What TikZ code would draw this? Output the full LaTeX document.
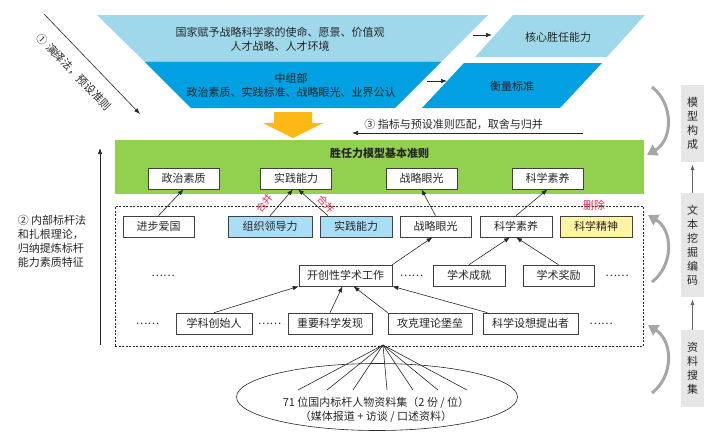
\documentclass[tikz,border=0pt]{standalone}
\usepackage{fontspec}
\setmainfont{Noto Sans CJK SC}
\usepackage{xcolor}
\usepackage{tikz}
\usetikzlibrary{arrows.meta, shapes.geometric, positioning}
\definecolor{skyblue}{HTML}{A0D8EB}
\definecolor{deepblue}{HTML}{00A0E2}
\definecolor{boxblue}{HTML}{A9DEF6}
\definecolor{boxyellow}{HTML}{FFF4A3}
\definecolor{rulegreen}{HTML}{92D050}
\definecolor{flowamber}{HTML}{FDB813}
\definecolor{stagegray}{HTML}{E6E6E6}
\definecolor{curvegray}{HTML}{A6A6A6}
\definecolor{tagred}{HTML}{F0284A}

\begin{document}
\begin{tikzpicture}[x=1pt, y=-1pt,
    every node/.style = {font=\fontsize{11}{14}\selectfont, text=black!85},
    crit/.style    = {rectangle, draw=black!75, line width=0.6pt, fill=white,
                      minimum width=71pt, minimum height=21pt, inner sep=1pt},
    merged/.style  = {crit, fill=boxblue},
    dropped/.style = {crit, fill=boxyellow},
    dots/.style    = {inner sep=0pt},
    stagebox/.style = {rectangle, fill=stagegray, minimum width=23pt,
                       align=center, inner sep=0pt},
    arrow/.style   = {-{Latex[length=6pt,width=4.5pt]}, line width=0.6pt, black!85},
    grayarrow/.style = {-{Latex[length=6pt,width=4.5pt]}, line width=1.2pt, black!60},
    curl/.style    = {-{Triangle[length=10pt,width=12pt]}, line width=3pt, curvegray},
    redtag/.style  = {font=\fontsize{10}{12}\selectfont, text=tagred, inner sep=0pt},
    fan/.style     = {line width=0.6pt, black!85}
  ]
  \useasboundingbox (0,0) rectangle (715,437);

  % Top funnel (two bands)
  \fill[skyblue]  (97,15) -- (488,15) -- (441.5,61.5) -- (144.5,61.5) -- cycle;
  \fill[deepblue] (144.5,61.5) -- (441.5,61.5) -- (395,108) -- (191,108) -- cycle;
  \node[align=center] at (280,39) (mission)
    {国家赋予战略科学家的使命、愿景、价值观\\人才战略、人才环境};
  \node[align=center] at (291,85) (zzb)
    {中组部\\政治素质、实践标准、战略眼光、业界公认};

  % Right parallelograms
  \fill[skyblue]  (513,15) -- (645,15) -- (607,57) -- (475,57) -- cycle;
  \fill[deepblue] (464,63) -- (602,63) -- (560,108) -- (422,108) -- cycle;
  \node at (558,37) (core)  {核心胜任能力};
  \node at (512,86) (gauge) {衡量标准};

  \coordinate (m1) at (473,35);  \coordinate (m2) at (492,35);
  \coordinate (z1) at (427,81);  \coordinate (z2) at (447,81);
  \draw[arrow] (m1) -- (m2);
  \draw[arrow] (z1) -- (z2);

  % Step 1 (deduction)
  \coordinate (d1) at (44,14);
  \coordinate (d2) at (140,114);
  \draw[arrow] (d1) -- (d2);
  \node[rotate=-46, inner sep=0pt] at (74,72) (deduce) {① 演绎法，预设准则};

  % Big amber arrow
  \fill[flowamber] (274,112) -- (312,112) -- (312,123) -- (323,123) -- (293,138)
                   -- (263,123) -- (274,123) -- cycle;

  % Step 3 (matching)
  \coordinate (p1) at (583,133);
  \coordinate (p2) at (352,133);
  \draw[arrow] (p1) -- node[above, pos=0.56] (match) {③ 指标与预设准则匹配，取舍与归并} (p2);

  % Basic criteria (green band)
  \node[rectangle, fill=rulegreen, minimum width=529pt, minimum height=54pt]
    at (379.5,167) (base) {};
  \node[font=\fontsize{11}{14}\selectfont\bfseries] at (379.5,153) (basetitle)
    {胜任力模型基本准则};
  \node[crit] at (183.5,178.5) (zzsz)  {政治素质};
  \node[crit] at (296,178.5)   (sjnl)  {实践能力};
  \node[crit] at (421.5,178.5) (zlyg)  {战略眼光};
  \node[crit] at (547.5,178.5) (kxsy)  {科学素养};

  % Coding pool (dashed)
  \node[rectangle, draw=black!85, line width=0.6pt, dash pattern=on 2pt off 1.5pt,
        minimum width=528pt, minimum height=140pt] at (379,276) (pool) {};
  \node[text=tagred, inner sep=0pt] at (594,205) (del) {删除};

  % Row 2
  \node[crit]                      at (158.5,226.5) (jbag)  {进步爱国};
  \node[merged, minimum width=84pt] at (270,226.5)   (zzld)  {组织领导力};
  \node[merged, minimum width=72pt] at (356,226.5)   (sjnl2) {实践能力};
  \node[crit]                      at (435.5,226.5) (zlyg2) {战略眼光};
  \node[crit, minimum width=72pt]  at (516,226.5)   (kxsy2) {科学素养};
  \node[dropped, minimum width=72pt] at (596,226.5) (kxjs)  {科学精神};

  % Row 3
  \node[dots]                      at (163,275.5)   (dots1) {……};
  \node[crit, minimum width=93pt]  at (345.5,275.5) (kcx)   {开创性学术工作};
  \node[dots]                      at (411.5,275.5) (dots2) {……};
  \node[crit, minimum width=72pt]  at (469,275.5)   (xscj)  {学术成就};
  \node[crit]                      at (558.5,275.5) (xsjl)  {学术奖励};
  \node[dots]                      at (617,275.5)   (dots3) {……};

  % Row 4
  \node[dots]                      at (147.5,323.5) (dots4) {……};
  \node[crit, minimum width=76pt]  at (214,323.5)   (xkcs)  {学科创始人};
  \node[dots]                      at (269.5,323.5) (dots5) {……};
  \node[crit, minimum width=84pt]  at (330,323.5)   (zykx)  {重要科学发现};
  \node[crit, minimum width=84pt]  at (430,323.5)   (gkll)  {攻克理论堡垒};
  \node[crit, minimum width=95pt]  at (530.5,323.5) (kxsx)  {科学设想提出者};
  \node[dots]                      at (601,323.5)   (dots6) {……};

  % Arrows up to the criteria
  \draw[arrow] (jbag.north) -- (zzsz.south);
  \draw[arrow] (zzld.north) -- ([xshift=-3pt]sjnl.south);
  \draw[arrow] ([xshift=-28pt]sjnl2.north) -- ([xshift=2pt]sjnl.south);
  \node[redtag, rotate=52]  at (265,203) (hb1) {合并};
  \node[redtag, rotate=-48] at (326,204) (hb2) {合并};
  \draw[arrow] (zlyg2.north) -- (zlyg.south);
  \draw[arrow] (kxsy2.north) -- (kxsy.south);

  \draw[arrow] (kcx.north east) -- ([xshift=-3pt]zlyg2.south);
  \draw[arrow] (xscj.north) -- ([xshift=-6pt]kxsy2.south);
  \draw[arrow] (xsjl.north) -- (kxsy2.south);

  \draw[arrow] (xkcs.north) -- (kcx.south west);
  \draw[arrow] (zykx.north) -- ([xshift=-3pt]kcx.south);
  \draw[arrow] (gkll.north west) -- ([xshift=8pt]kcx.south);
  \draw[arrow] ([xshift=-43pt]kxsx.north) -- (kcx.south east);

  % Source material
  \node[ellipse, draw=black!85, line width=0.6pt, minimum width=281pt,
        minimum height=67pt, inner sep=0pt] at (377,397) (src) {};
  \coordinate (apex) at (383,345);
  \foreach \x [count=\i] in {298,327,353,387,413,438,467} {
    \coordinate (f\i) at (\x,390);
    \draw[fan] (apex) -- (f\i);
  }
  \node[align=center] at (376,409.5) (srctxt)
    {71 位国内标杆人物资料集（2 份 / 位）\\（媒体报道 + 访谈 / 口述资料）};

  % Step 2 (induction)
  \coordinate (u1) at (100,345);
  \coordinate (u2) at (100,148);
  \draw[arrow] (u1) -- (u2);
  \node[align=left] at (52,241) (induce)
    {② 内部标杆法\\和扎根理论，\\归纳提炼标杆\\能力素质特征};

  % Stage column
  \node[stagebox, minimum height=77pt]  at (692.5,123.5) (model)  {模\\型\\构\\成};
  \node[stagebox, minimum height=104pt] at (692.5,245)   (coding) {文\\本\\挖\\掘\\编\\码};
  \node[stagebox, minimum height=77pt]  at (692.5,368.5) (gather) {资\\料\\搜\\集};
  \draw[grayarrow, shorten >=2pt] (coding.north) -- (model.south);
  \draw[grayarrow, shorten >=2pt] (gather.north) -- (coding.south);

  % Curved stage arrows
  \coordinate (c1) at (652,87);   \coordinate (c2) at (647,155);
  \coordinate (c3) at (652,282);  \coordinate (c4) at (648,215);
  \coordinate (c5) at (652,393);  \coordinate (c6) at (648,325);
  \draw[curl] (c1) .. controls (674,104) and (673,140) .. (c2);
  \draw[curl] (c3) .. controls (674,265) and (673,230) .. (c4);
  \draw[curl] (c5) .. controls (674,376) and (673,341) .. (c6);
\end{tikzpicture}
\end{document}
